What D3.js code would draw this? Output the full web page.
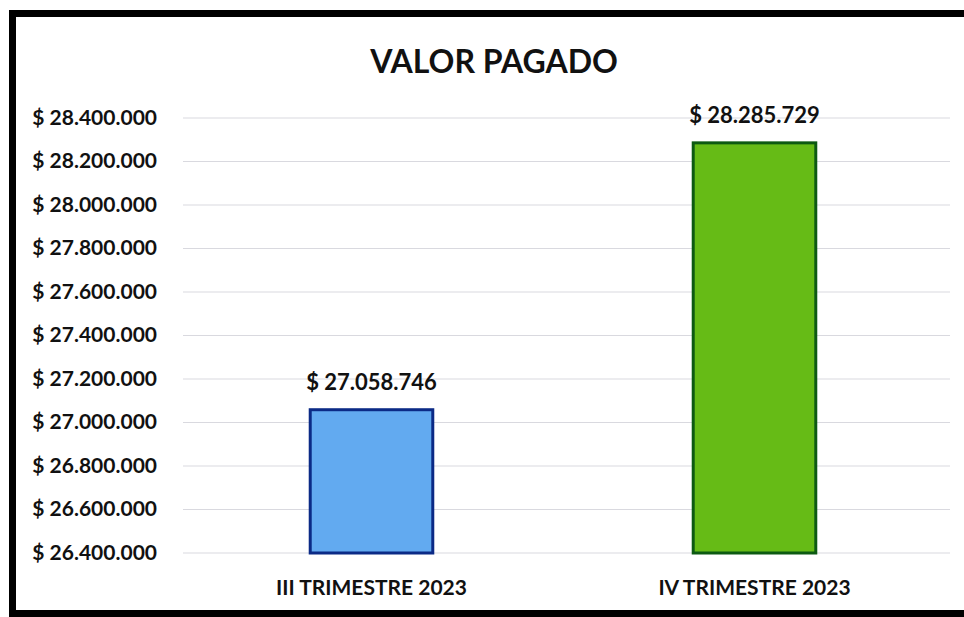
<!DOCTYPE html>
<html><head><meta charset="utf-8">
<script src="https://cdn.jsdelivr.net/npm/d3@7"></script>
<style>html,body{margin:0;background:#fff;overflow:hidden;} svg{display:block;}</style>
</head><body>
<svg id="c" width="964" height="617"></svg>
<script>
const categories = ["III TRIMESTRE 2023", "IV TRIMESTRE 2023"];
const values = [27058746, 28285729];
const tickValues = [26400000, 26600000, 26800000, 27000000, 27200000, 27400000, 27600000, 27800000, 28000000, 28200000, 28400000];
const title = "VALOR PAGADO";

const fills = ["#62aaf0", "#66bb16"];
const strokes = ["#0b2a86", "#0d5a12"];

const svg = d3.select("#c");
const font = "Lato, 'Open Sans', sans-serif";
const fmt = v => "$ " + d3.format(",")(v).replace(/,/g, ".");

// frame: top, left, bottom
const frame = svg.append("g").attr("stroke", "#000").attr("stroke-width", 7);
frame.append("line").attr("x1", 9).attr("x2", 964).attr("y1", 13.5).attr("y2", 13.5);
frame.append("line").attr("x1", 12.5).attr("x2", 12.5).attr("y1", 10).attr("y2", 617);
frame.append("line").attr("x1", 9).attr("x2", 964).attr("y1", 613.5).attr("y2", 613.5);

const x = d3.scaleBand().domain(categories).range([180, 946]).paddingInner(0.68).paddingOuter(0.34);
const y = d3.scaleLinear().domain([26400000, 28400000]).range([553, 118]);

// gridlines
svg.append("g").selectAll("line").data(tickValues).join("line")
  .attr("x1", 183).attr("x2", 950)
  .attr("y1", d => y(d)).attr("y2", d => y(d))
  .attr("stroke", "#d9d9df").attr("stroke-width", 1.2);

// y axis
const yAxis = svg.append("g").attr("transform", "translate(157,0)")
  .call(d3.axisLeft(y).tickValues(tickValues).tickSize(0).tickPadding(0).tickFormat(fmt));
yAxis.select(".domain").remove();
yAxis.selectAll("text").attr("font-family", font).attr("font-weight", 700)
  .attr("font-size", 21).attr("fill", "#111").attr("dy", "0.3em");

// bars
svg.append("g").selectAll("rect").data(values).join("rect")
  .attr("x", (d, i) => x(categories[i]))
  .attr("width", x.bandwidth())
  .attr("y", d => y(d))
  .attr("height", d => y(26400000) - y(d))
  .attr("fill", (d, i) => fills[i])
  .attr("stroke", (d, i) => strokes[i]).attr("stroke-width", 3);

// data labels
svg.append("g").selectAll("text").data(values).join("text")
  .attr("x", (d, i) => x(categories[i]) + x.bandwidth() / 2)
  .attr("y", d => y(d) - 20)
  .attr("text-anchor", "middle")
  .attr("font-family", font).attr("font-weight", 700).attr("font-size", 22).attr("fill", "#111")
  .text(fmt);

// x axis
const xAxis = svg.append("g").attr("transform", "translate(0,553)")
  .call(d3.axisBottom(x).tickSize(0).tickPadding(0));
xAxis.select(".domain").remove();
xAxis.selectAll("text").attr("font-family", font).attr("font-weight", 700)
  .attr("font-size", 21).attr("fill", "#111").attr("y", 42).attr("dy", 0);

// title
svg.append("text").attr("x", 494).attr("y", 73).attr("text-anchor", "middle")
  .attr("font-family", font).attr("font-weight", 700).attr("font-size", 32).attr("fill", "#111")
  .text(title);
</script>
</body></html>
